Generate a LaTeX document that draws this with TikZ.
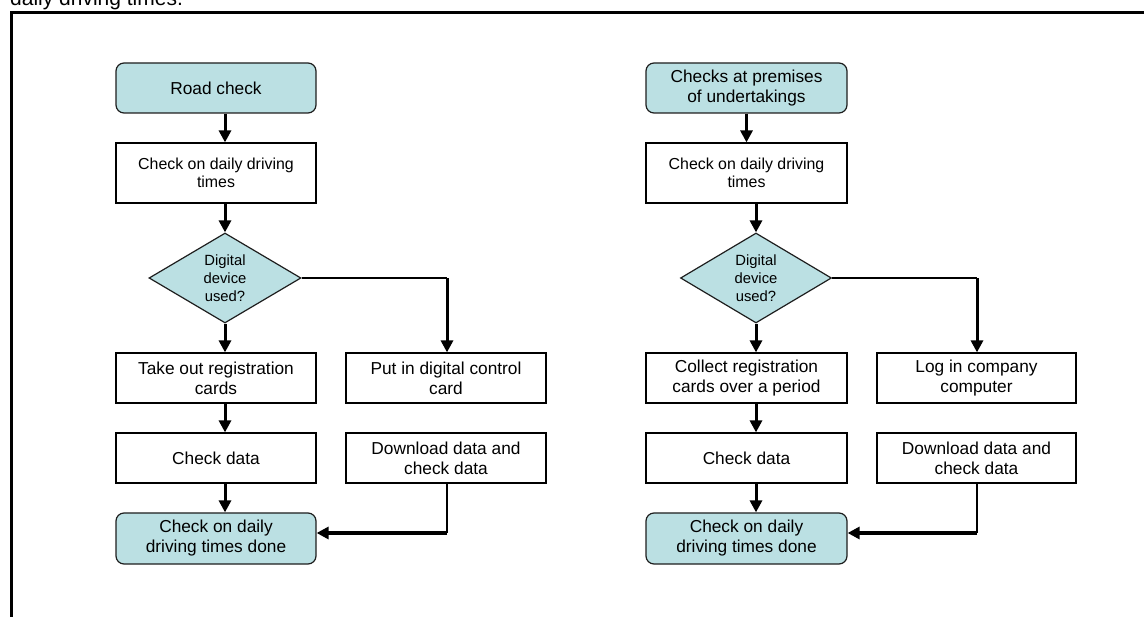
\documentclass[tikz,border=0pt]{standalone}
\usepackage{fontspec}
\setmainfont{Liberation Sans}
\usetikzlibrary{shapes.geometric,arrows.meta,calc}
\definecolor{boxfill}{RGB}{187,224,227}
\definecolor{edge}{RGB}{30,30,30}
\begin{document}
\begin{tikzpicture}[x=1pt,y=-1pt,
  box/.style={draw=black, line width=1.2pt, minimum width=200pt, minimum height=50pt,
    inner sep=0pt, align=center, fill=white, font=\fontsize{17.3}{20}\selectfont},
  smallbox/.style={box, minimum height=60pt, font=\fontsize{15.9}{18.3}\selectfont},
  rbox/.style={box, draw=edge, fill=boxfill, rounded corners=8pt},
  decision/.style={diamond, draw=edge, fill=boxfill, line width=1.2pt, minimum width=152pt,
    minimum height=90pt, inner sep=0pt, align=center, font=\fontsize{14.8}{18}\selectfont},
  arr/.style={line width=3pt, -{Triangle[length=12pt,width=12pt]}},
  thinline/.style={line width=1.3pt},
  midline/.style={line width=2pt},
  frame/.style={line width=3pt}]
\clip (0,0) rectangle (1144,617);
\useasboundingbox (0,0) rectangle (1144,617);
% caption fragment and frame
\node[anchor=base west, inner sep=0pt, font=\fontsize{21}{24}\selectfont] (cap) at (10,6) {daily driving times.};
\coordinate (f1) at (11,620);
\coordinate (f2) at (11,12.5);
\coordinate (f3) at (1146,12.5);
\draw[frame] (f1) -- (f2) -- (f3);

% ---------- left chart ----------
\node[rbox] (road) at (216,88) {Road check};
\node[smallbox] (chk1) at (216,173) {Check on daily driving\\times};
\node[decision] (dia1) at (225,278) {Digital\\device\\used?};
\node[box] (take) at (216,378) {Take out registration\\cards};
\node[box] (put) at (446,378) {Put in digital control\\card};
\node[box] (cd1) at (216,458) {Check data};
\node[box] (dl1) at (446,458) {Download data and\\check data};
\node[rbox, minimum height=51pt] (done1) at (216,538.5) {Check on daily\\driving times done};

\draw[arr] (road.south -| dia1) -- (chk1.north -| dia1);
\draw[arr] (chk1.south -| dia1) -- (dia1.north);
\draw[arr] (dia1.south) -- (take.north -| dia1);
\draw[arr] (take.south -| dia1) -- (cd1.north -| dia1);
\draw[arr] (cd1.south -| dia1) -- (done1.north -| dia1);
\coordinate (b1) at ($(put.north |- dia1.east)+(1,0)$);
\draw[thinline] (dia1.east) -- (b1);
\draw[arr] (b1) -- (b1 |- put.north);
\coordinate (j1) at ($(dl1.south |- done1.east)+(1,-5.5)$);
\draw[midline] ($(dl1.south)+(1,0)$) -- (j1);
\draw[arr] (j1) -- (done1.east |- j1);

% ---------- right chart ----------
\node[rbox, minimum width=201pt] (prem) at (746.5,88) {Checks at premises\\of undertakings};
\node[smallbox, minimum width=201pt] (chk2) at (746.5,173) {Check on daily driving\\times};
\node[decision, minimum width=151pt] (dia2) at (756,278) {Digital\\device\\used?};
\node[box, minimum width=201pt] (coll) at (746.5,378) {Collect registration\\cards over a period};
\node[box, minimum width=199pt] (log) at (976.5,378) {Log in company\\computer};
\node[box, minimum width=201pt] (cd2) at (746.5,458) {Check data};
\node[box, minimum width=199pt] (dl2) at (976.5,458) {Download data and\\check data};
\node[rbox, minimum width=201pt, minimum height=51pt] (done2) at (746.5,538.5) {Check on daily\\driving times done};

\draw[arr] (prem.south) -- (chk2.north);
\draw[arr] (chk2.south -| dia2) -- (dia2.north);
\draw[arr] (dia2.south) -- (coll.north -| dia2);
\draw[arr] (coll.south -| dia2) -- (cd2.north -| dia2);
\draw[arr] (cd2.south -| dia2) -- (done2.north -| dia2);
\coordinate (b2) at ($(log.north |- dia2.east)+(0.5,0)$);
\draw[thinline] (dia2.east) -- (b2);
\draw[arr] (b2) -- (b2 |- log.north);
\coordinate (j2) at ($(dl2.south |- done2.east)+(0.5,-5.5)$);
\draw[midline] ($(dl2.south)+(0.5,0)$) -- (j2);
\draw[arr] (j2) -- (done2.east |- j2);
\end{tikzpicture}
\end{document}
